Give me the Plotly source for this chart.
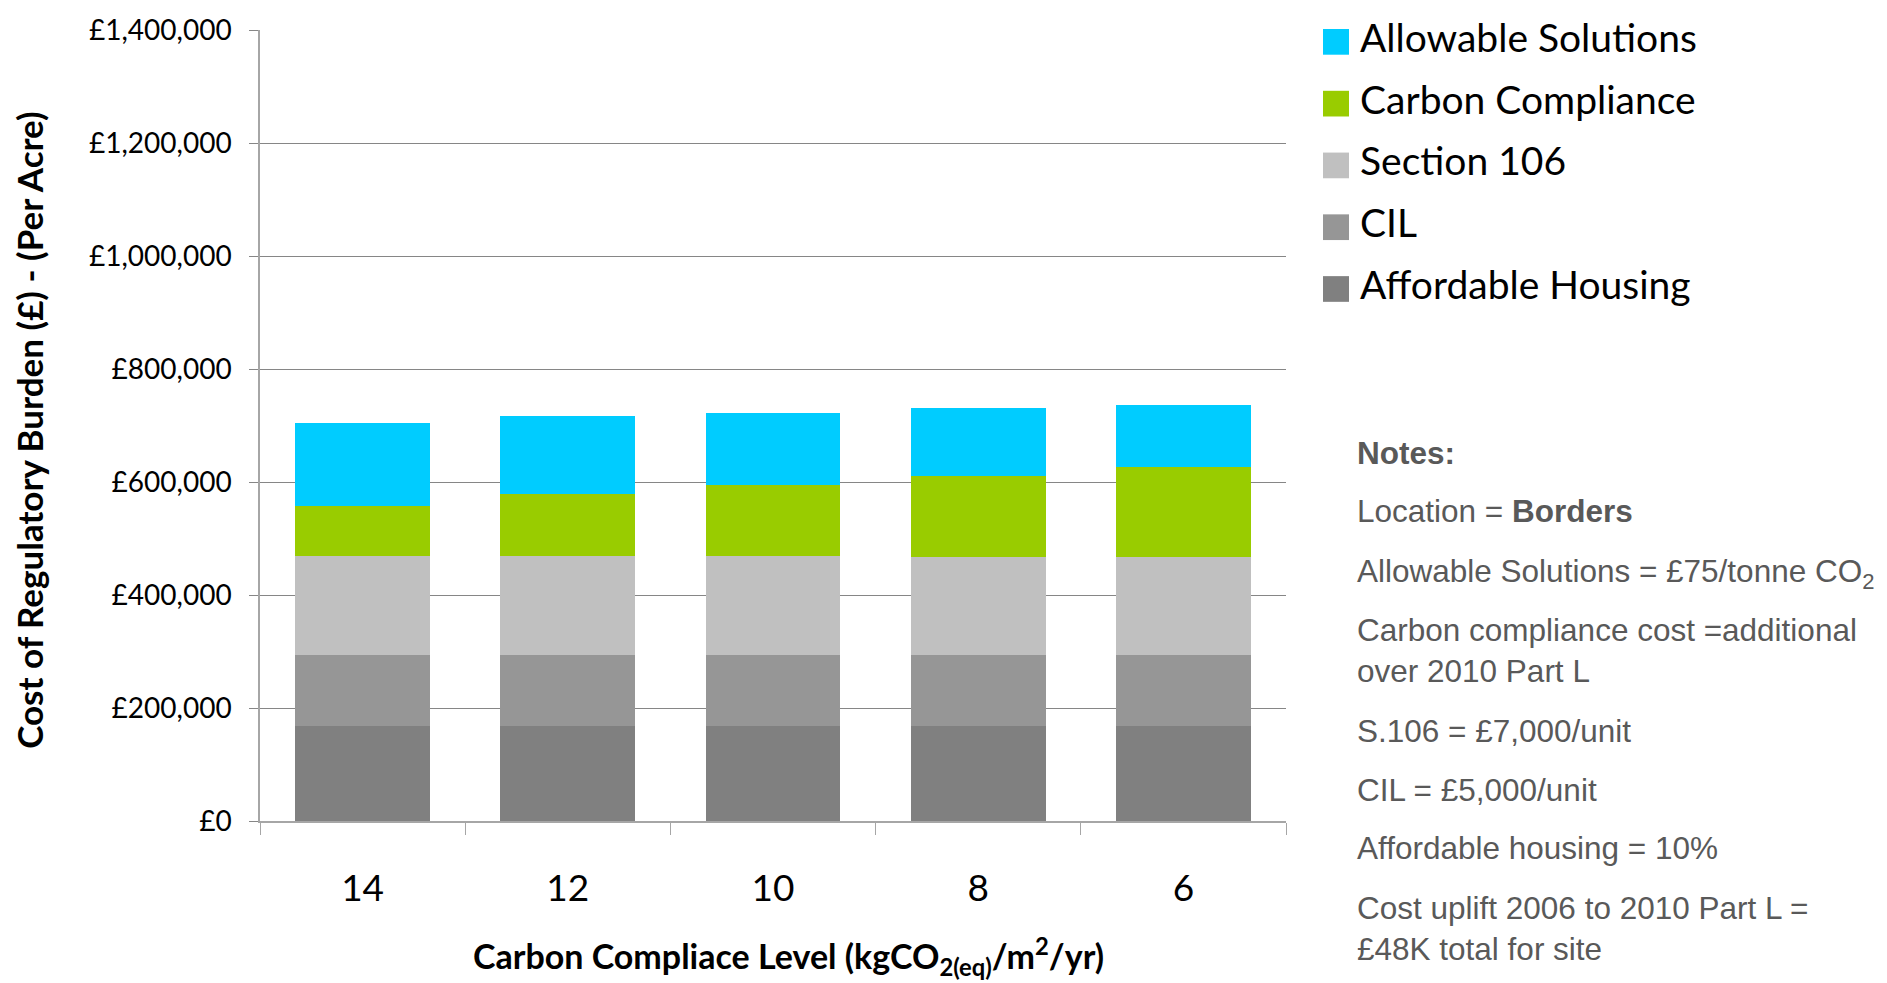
import plotly.graph_objects as go

# Carbon compliance levels (kgCO2(eq)/m2/yr)
levels = ["14", "12", "10", "8", "6"]

# Regulatory cost components per acre (GBP)
affordable_housing = [168000, 168000, 168000, 168000, 168000]
cil = [126000, 126000, 126000, 126000, 126000]
section_106 = [175000, 175000, 175000, 174000, 174000]
carbon_compliance = [88000, 110000, 125000, 143000, 159000]
allowable_solutions = [147000, 137000, 129000, 120000, 110000]

series = [
    ("Affordable Housing", affordable_housing, "#808080"),
    ("CIL", cil, "#969696"),
    ("Section 106", section_106, "#C0C0C0"),
    ("Carbon Compliance", carbon_compliance, "#99CC00"),
    ("Allowable Solutions", allowable_solutions, "#00CCFF"),
]

notes = [
    "<b>Notes:</b>",
    "Location = <b>Borders</b>",
    "Allowable Solutions = £75/tonne CO<sub>2</sub>",
    "Carbon compliance cost =additional<br>over 2010 Part L",
    "S.106 = £7,000/unit",
    "CIL = £5,000/unit",
    "Affordable housing = 10%",
    "Cost uplift 2006 to 2010 Part L =<br>£48K total for site",
]

W, H = 1887, 983
L, R, T, B = 260, 1286, 20.5, 820.7


def px_x(x):
    return (x - L) / (R - L)


def px_y(y):
    return (B - y) / (B - T)


fig = go.Figure()
for name, vals, color in series:
    fig.add_trace(go.Bar(name=name, x=levels, y=vals, marker_color=color,
                         marker_line_width=0, showlegend=False))

shapes = []
annotations = []

# Legend drawn as swatches with labels, top entry first
legend_rows = [32.5, 95.0, 157.5, 220.0, 282.5]
for (name, _, color), yc in zip(reversed(series), legend_rows):
    shapes.append(dict(type="rect", xref="paper", yref="paper",
                       x0=px_x(1323), x1=px_x(1349),
                       y0=px_y(yc + 13), y1=px_y(yc - 13),
                       fillcolor=color, line_width=0))
    annotations.append(dict(text=name, xref="paper", yref="paper",
                            x=px_x(1358), y=px_y(yc - 5), xanchor="left", yanchor="middle",
                            showarrow=False,
                            font=dict(family="Lato", size=39, color="#000000")))

# Notes block
note_tops = [428, 487, 548, 607, 709, 769, 828, 888]
for txt, yt in zip(notes, note_tops):
    annotations.append(dict(text=txt, xref="paper", yref="paper",
                            x=px_x(1355), y=px_y(yt), xanchor="left", yanchor="top",
                            align="left", showarrow=False,
                            font=dict(family="Liberation Sans", size=31.5, color="#595959")))

# Axis titles
annotations.append(dict(text="Cost of Regulatory Burden (£) - (Per Acre)",
                        xref="paper", yref="paper", x=px_x(29), y=px_y(426),
                        xanchor="center", yanchor="middle", textangle=-90, showarrow=False,
                        font=dict(family="Lato", size=35, color="#000000", weight="bold")))
annotations.append(dict(text="Carbon Compliace Level (kgCO<sub>2(eq)</sub>/m<sup>2</sup>/yr)",
                        xref="paper", yref="paper", x=px_x(788), y=px_y(958),
                        xanchor="center", yanchor="middle", showarrow=False,
                        font=dict(family="Lato", size=34, color="#000000", weight="bold")))

fig.update_layout(
    barmode="stack",
    bargap=0.343,
    width=W, height=H,
    margin=dict(l=L, r=W - R, t=T, b=H - B, pad=0),
    paper_bgcolor="white", plot_bgcolor="white",
    shapes=shapes, annotations=annotations,
    xaxis=dict(type="category", ticks="outside", tickson="boundaries", ticklen=12,
               tickcolor="#A6A6A6", showline=True, linecolor="#A6A6A6", linewidth=1.5,
               showgrid=False, ticklabelstandoff=34,
               tickfont=dict(family="Lato", size=37, color="#000000")),
    yaxis=dict(range=[0, 1400000], dtick=200000, tickprefix="£", tickformat=",d",
               ticks="outside", ticklen=9, tickcolor="#868686",
               showline=True, linecolor="#A6A6A6", linewidth=1.5,
               showgrid=True, gridcolor="#868686", gridwidth=1, zeroline=False,
               ticklabelstandoff=12,
               tickfont=dict(family="Lato", size=28, color="#000000")),
)

fig.write_html("out.html")
